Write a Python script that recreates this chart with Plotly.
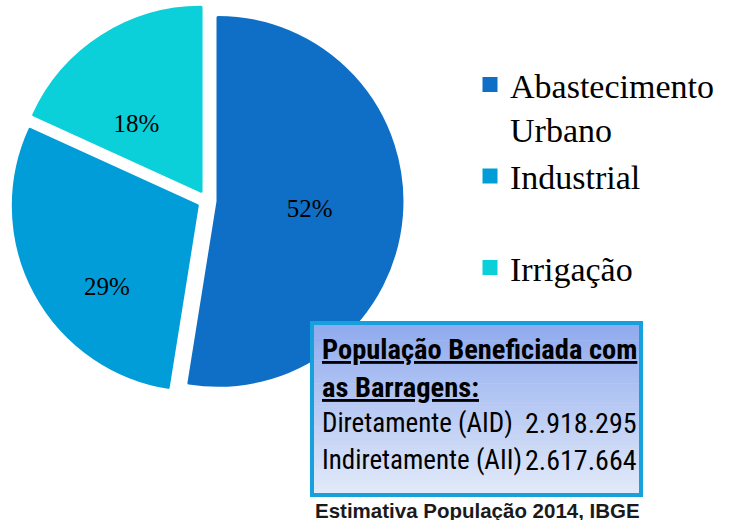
import plotly.graph_objects as go

W, H = 729, 520

# ---- data ----
categories = ["Abastecimento<br>Urbano", "Industrial<br> ", "Irrigação"]
shares = [52, 29, 18]
share_labels = ["52%", "&nbsp;<br>&nbsp;<br>29%", "&nbsp;<br>&nbsp;<br>18%"]
colors = ["#0F6FC6", "#009DD9", "#0BD0D9"]

box_title = ["<b><u>População Beneficiada com</u></b>", "<b><u>as Barragens:</u></b>"]
pop_labels = ["Diretamente (AID)", "Indiretamente (AII)"]
pop_values = ["2.918.295", "2.617.664"]
source_note = "<b>Estimativa População 2014, IBGE</b>"

SERIF = "Liberation Serif, Times New Roman, serif"
NARROW = "Roboto Condensed, Arial Narrow, sans-serif"


def px(x):
    return x / W


def py(y):
    return 1 - y / H


fig = go.Figure()
fig.add_trace(go.Pie(
    labels=categories,
    values=shares,
    text=share_labels,
    textinfo="text",
    textposition="inside",
    insidetextorientation="horizontal",
    textfont=dict(family=SERIF, size=25, color="#000000"),
    sort=False,
    direction="clockwise",
    rotation=0,
    pull=0.06,
    marker=dict(colors=colors, line=dict(width=3, color=colors)),
    domain=dict(x=[px(12), px(402)], y=[py(395.5), py(5.5)]),
    hoverinfo="label+percent",
))

shapes = []
# gradient box
bx0, bx1, by0, by1 = 312, 641, 323, 495
n = 60
top_rgb = (0x8F, 0xAA, 0xEE)
bot_rgb = (0xE2, 0xEA, 0xF9)
for i in range(n):
    t = i / (n - 1)
    r = round(top_rgb[0] + (bot_rgb[0] - top_rgb[0]) * t)
    g = round(top_rgb[1] + (bot_rgb[1] - top_rgb[1]) * t)
    b = round(top_rgb[2] + (bot_rgb[2] - top_rgb[2]) * t)
    y0 = by0 + (by1 - by0) * i / n
    y1 = by0 + (by1 - by0) * (i + 1) / n + 0.6
    shapes.append(dict(type="rect", xref="paper", yref="paper", layer="above",
                       x0=px(bx0), x1=px(bx1), y0=py(min(y1, by1)), y1=py(y0),
                       fillcolor=f"rgb({r},{g},{b})", line=dict(width=0)))
shapes.append(dict(type="rect", xref="paper", yref="paper", layer="above",
                   x0=px(bx0), x1=px(bx1), y0=py(by1), y1=py(by0),
                   fillcolor="rgba(0,0,0,0)", line=dict(color="#16A1DC", width=4)))

annotations = []
line_y = [349, 387, 423, 460]
for i, t in enumerate(box_title):
    annotations.append(dict(text=t, x=px(320), y=py(line_y[i]), xref="paper", yref="paper",
                            xanchor="left", yanchor="middle", showarrow=False,
                            font=dict(family=NARROW, size=28.5, color="#000000")))
for i, (lab, val) in enumerate(zip(pop_labels, pop_values)):
    annotations.append(dict(text=lab, x=px(320), y=py(line_y[2 + i]), xref="paper", yref="paper",
                            xanchor="left", yanchor="middle", showarrow=False,
                            font=dict(family=NARROW, size=27, color="#000000")))
    annotations.append(dict(text=val, x=px(639), y=py(line_y[2 + i]), xref="paper", yref="paper",
                            xanchor="right", yanchor="middle", showarrow=False,
                            font=dict(family=NARROW, size=28, color="#000000")))
annotations.append(dict(text=source_note, x=px(477), y=py(510), xref="paper", yref="paper",
                        xanchor="center", yanchor="middle", showarrow=False,
                        font=dict(family="Liberation Sans, Arial, sans-serif", size=20.5, color="#1a1a1a")))

fig.update_layout(
    width=W, height=H,
    margin=dict(l=0, r=0, t=0, b=0),
    paper_bgcolor="#FFFFFF",
    plot_bgcolor="#FFFFFF",
    showlegend=True,
    legend=dict(x=px(470), y=py(56), xanchor="left", yanchor="top",
                valign="top", font=dict(family=SERIF, size=34, color="#000000"),
                bgcolor="rgba(0,0,0,0)", traceorder="normal"),
    shapes=shapes,
    annotations=annotations,
)

fig.write_html("out.html", config={"displayModeBar": False},
               post_script="document.body.style.margin='0';")
